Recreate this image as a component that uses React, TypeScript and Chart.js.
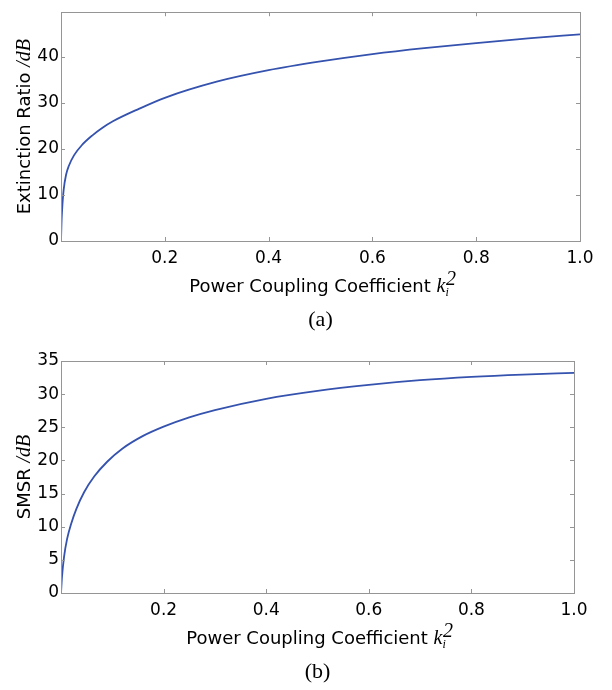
import React, { useEffect, useRef } from 'react';
import { Chart, registerables } from 'chart.js';
Chart.register(...registerables);

// ---- data ----
const K_A = [0, 0.001, 0.002, 0.005, 0.01, 0.015, 0.025, 0.04, 0.06, 0.08, 0.1, 0.15, 0.2, 0.3, 0.4, 0.5, 0.6, 0.7, 0.8, 0.9, 1.0];
const ER_A = [0, 4, 6.5, 11, 14.5, 16.3, 18.6, 20.8, 22.9, 24.6, 26.0, 28.7, 31.1, 34.6, 37.1, 39.0, 40.6, 41.9, 43.0, 44.0, 44.9];

const K_B = [0, 0.002, 0.006, 0.012, 0.02, 0.03, 0.045, 0.065, 0.09, 0.12, 0.16, 0.2, 0.25, 0.3, 0.4, 0.5, 0.6, 0.7, 0.8, 0.9, 1.0];
const SMSR_B = [0, 2.5, 5.5, 8.2, 10.5, 12.7, 15.2, 17.6, 19.8, 21.8, 23.7, 25.1, 26.5, 27.6, 29.3, 30.5, 31.4, 32.1, 32.6, 32.95, 33.2];

const X_TICKS = [0, 0.2, 0.4, 0.6, 0.8, 1.0];
const Y_TICKS_A = [0, 10, 20, 30, 40];
const Y_TICKS_B = [0, 5, 10, 15, 20, 25, 30, 35];
const Y_MAX_A = 49.7;
const Y_MAX_B = 35;

const X_TITLE = 'Power Coupling Coefficient ';
const Y_TITLE_A = 'Extinction Ratio ';
const Y_TITLE_B = 'SMSR ';
const CAPTION_A = '(a)';
const CAPTION_B = '(b)';

const LINE_COLOR = '#3452ae';
const FRAME_COLOR = '#959595';
const SANS = '"DejaVu Sans", sans-serif';
const MATH = '"Liberation Serif", serif';

type Piece = { t: string; font: string; dy: number };

function piecesWidth(ctx: CanvasRenderingContext2D, pieces: Piece[]) {
  let w = 0;
  for (const p of pieces) { ctx.font = p.font; w += ctx.measureText(p.t).width; }
  return w;
}
function drawPieces(ctx: CanvasRenderingContext2D, pieces: Piece[], x0: number, y: number) {
  let x = x0;
  for (const p of pieces) {
    ctx.font = p.font;
    ctx.fillText(p.t, x, y + p.dy);
    x += ctx.measureText(p.t).width;
  }
}

function makePlugin(yTicks: number[], yTitle: string, caption: string) {
  return {
    id: 'decor',
    afterDraw(chart: any) {
      const ctx: CanvasRenderingContext2D = chart.ctx;
      const a = chart.chartArea;
      const xs = chart.scales.x;
      const ys = chart.scales.y;
      ctx.save();
      // frame
      ctx.strokeStyle = FRAME_COLOR;
      ctx.lineWidth = 1;
      ctx.strokeRect(Math.round(a.left) + 0.5, Math.round(a.top) + 0.5, Math.round(a.right - a.left), Math.round(a.bottom - a.top));
      // inward ticks
      const L = 4;
      ctx.beginPath();
      for (const v of X_TICKS) {
        const px = Math.round(xs.getPixelForValue(v)) + 0.5;
        ctx.moveTo(px, a.bottom); ctx.lineTo(px, a.bottom - L);
        ctx.moveTo(px, a.top); ctx.lineTo(px, a.top + L);
      }
      for (const v of yTicks) {
        const py = Math.round(ys.getPixelForValue(v)) + 0.5;
        ctx.moveTo(a.left, py); ctx.lineTo(a.left + L, py);
        ctx.moveTo(a.right, py); ctx.lineTo(a.right - L, py);
      }
      ctx.stroke();

      ctx.fillStyle = '#000';
      ctx.textBaseline = 'middle';
      ctx.textAlign = 'left';
      // x title
      const xt: Piece[] = [
        { t: X_TITLE, font: `18px ${SANS}`, dy: 0 },
        { t: 'k', font: `italic 20px ${MATH}`, dy: 0 },
        { t: 'i', font: `italic 12px ${MATH}`, dy: 6 },
      ];
      const cx = (a.left + a.right) / 2;
      const xw = piecesWidth(ctx, xt) + 3;
      const ty = a.bottom + 46;
      drawPieces(ctx, xt, cx - xw / 2, ty);
      ctx.font = `11px ${MATH}`;
      const kW = piecesWidth(ctx, xt.slice(0, 2));
      ctx.fillText('2', cx - xw / 2 + kW + 0.5, ty - 7);
      // caption
      ctx.textAlign = 'center';
      ctx.font = `22px ${MATH}`;
      ctx.fillText(caption, cx, a.bottom + 79);
      // y title
      ctx.textAlign = 'left';
      const yt: Piece[] = [
        { t: yTitle, font: `18px ${SANS}`, dy: 0 },
        { t: '/dB', font: `italic 20px ${MATH}`, dy: 0 },
      ];
      const yw = piecesWidth(ctx, yt);
      ctx.translate(25, (a.top + a.bottom) / 2);
      ctx.rotate(-Math.PI / 2);
      drawPieces(ctx, yt, -yw / 2, 0);
      ctx.restore();
    },
  };
}

function makeConfig(k: number[], v: number[], yTicks: number[], yMax: number, padTop: number, padRight: number, xAxisH: number, yTitle: string, caption: string): any {
  return {
    type: 'line',
    data: {
      datasets: [{
        data: k.map((x, i) => ({ x, y: v[i] })),
        borderColor: LINE_COLOR,
        borderWidth: 1.8,
        pointRadius: 0,
        fill: false,
        cubicInterpolationMode: 'monotone',
      }],
    },
    options: {
      responsive: false,
      animation: false,
      layout: { padding: { top: padTop, right: padRight, left: 0, bottom: 0 } },
      plugins: { legend: { display: false }, tooltip: { enabled: false }, title: { display: false } },
      scales: {
        x: {
          type: 'linear', min: 0, max: 1,
          grid: { display: false, drawTicks: false },
          border: { display: false },
          afterBuildTicks: (s: any) => { s.ticks = X_TICKS.map((value) => ({ value })); },
          afterFit: (s: any) => { s.height = xAxisH; },
          ticks: {
            padding: 7,
            color: '#000',
            font: { family: 'DejaVu Sans', size: 17 },
            maxRotation: 0,
            autoSkip: false,
            callback: (val: any) => (Number(val) === 0 ? '' : Number(val).toFixed(1)),
          },
        },
        y: {
          type: 'linear', min: 0, max: yMax,
          grid: { display: false, drawTicks: false },
          border: { display: false },
          afterBuildTicks: (s: any) => { s.ticks = yTicks.map((value) => ({ value })); },
          afterFit: (s: any) => { s.width = 61; },
          ticks: {
            padding: 2,
            color: '#000',
            font: { family: 'DejaVu Sans', size: 17 },
            autoSkip: false,
            callback: (val: any) => String(val),
          },
        },
      },
    },
    plugins: [makePlugin(yTicks, yTitle, caption)],
  };
}

function Panel({ cfg }: { cfg: () => any }) {
  const ref = useRef<HTMLCanvasElement | null>(null);
  useEffect(() => {
    if (!ref.current) return;
    const chart = new Chart(ref.current, cfg());
    return () => chart.destroy();
  }, []);
  return <canvas ref={ref} width={612} height={345} style={{ display: 'block', width: 612, height: 345 }} />;
}

export default function App() {
  return (
    <div style={{ position: 'absolute', left: 0, top: 0, width: 612, height: 690, background: '#fff' }}>
      <Panel cfg={() => makeConfig(K_A, ER_A, Y_TICKS_A, Y_MAX_A, 3, 32, 104, Y_TITLE_A, CAPTION_A)} />
      <Panel cfg={() => makeConfig(K_B, SMSR_B, Y_TICKS_B, Y_MAX_B, 16, 38, 97, Y_TITLE_B, CAPTION_B)} />
    </div>
  );
}
